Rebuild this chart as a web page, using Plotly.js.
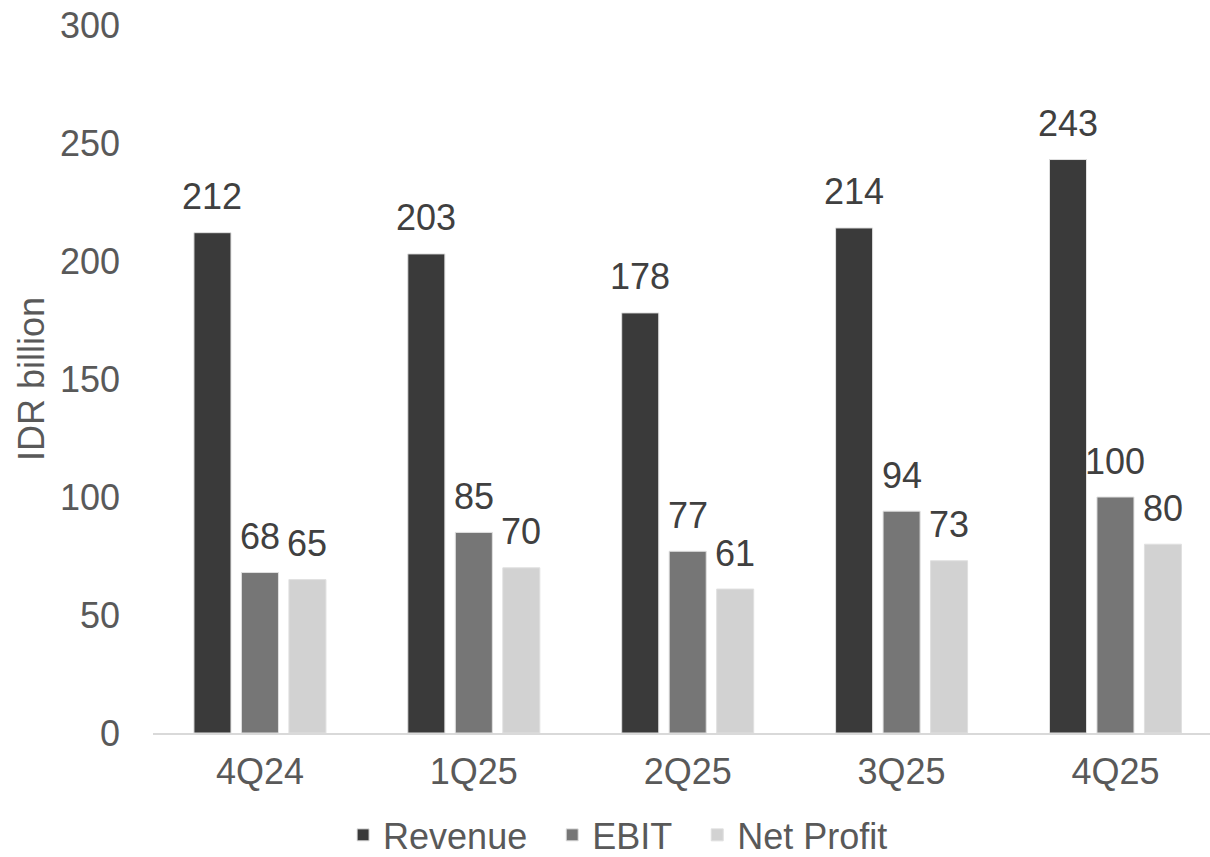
<!DOCTYPE html>
<html>
<head>
<meta charset="utf-8">
<script src="https://cdn.plot.ly/plotly-3.0.1.min.js"></script>
<style>html,body{margin:0;padding:0;background:#fff;}#chart{width:1210px;height:857px;}</style>
</head>
<body>
<div id="chart"></div>
<script>
var categories = ['4Q24', '1Q25', '2Q25', '3Q25', '4Q25'];
var revenue = [212, 203, 178, 214, 243];
var ebit = [68, 85, 77, 94, 100];
var netProfit = [65, 70, 61, 73, 80];
var seriesNames = ['Revenue', 'EBIT', 'Net Profit'];
var seriesColors = ['#3a3a3a', '#767676', '#d2d2d2'];
var yTicks = [0, 50, 100, 150, 200, 250, 300];

var FONT = 'Liberation Sans, Arial, sans-serif';
var seriesData = [revenue, ebit, netProfit];
var NBSP = '\u00a0\u00a0';

var traces = seriesData.map(function (vals, i) {
  return {
    type: 'bar',
    name: seriesNames[i] + (i < seriesNames.length - 1 ? NBSP : ''),
    x: categories,
    y: vals,
    marker: { color: seriesColors[i], line: { color: '#e0e0e0', width: 1 } },
    hoverinfo: 'skip'
  };
});

var slotPx = 47.5;
var annotations = [];
seriesData.forEach(function (vals, i) {
  vals.forEach(function (v, j) {
    annotations.push({
      x: categories[j], y: v, xref: 'x', yref: 'y',
      text: String(v), showarrow: false,
      xshift: (i - 1) * slotPx, yshift: 36,
      yanchor: 'middle', xanchor: 'center',
      font: { family: FONT, size: 36, color: '#404040' }
    });
  });
});

var layout = {
  width: 1210, height: 857,
  margin: { l: 152.5, r: 0, t: 25, b: 124, autoexpand: false },
  paper_bgcolor: '#ffffff', plot_bgcolor: '#ffffff',
  barmode: 'group', bargap: 0.334, bargroupgap: 0.22,
  font: { family: FONT, size: 36, color: '#595959' },
  xaxis: {
    type: 'category', range: [-0.5, 4.442], fixedrange: true,
    showline: true, linecolor: '#d9d9d9', linewidth: 1.5,
    showgrid: false, zeroline: false, ticks: '',
    ticklabelstandoff: 6,
    tickfont: { family: FONT, size: 36, color: '#595959' },
    automargin: false
  },
  yaxis: {
    range: [0, 300], tickvals: yTicks, ticktext: yTicks.map(String),
    showgrid: false, zeroline: false, showline: false, ticks: '',
    ticklabelstandoff: 32,
    tickfont: { family: FONT, size: 36, color: '#595959' },
    title: { text: 'IDR billion', font: { family: FONT, size: 36, color: '#595959' }, standoff: 4 },
    automargin: false
  },
  legend: {
    orientation: 'h', x: 0.44, xanchor: 'center', y: -0.144, yanchor: 'middle',
    font: { family: FONT, size: 36, color: '#595959' },
    itemwidth: 30, traceorder: 'normal', bgcolor: 'rgba(0,0,0,0)'
  },
  annotations: annotations,
  showlegend: true
};

Plotly.newPlot('chart', traces, layout, { displayModeBar: false, staticPlot: true });
</script>
</body>
</html>
